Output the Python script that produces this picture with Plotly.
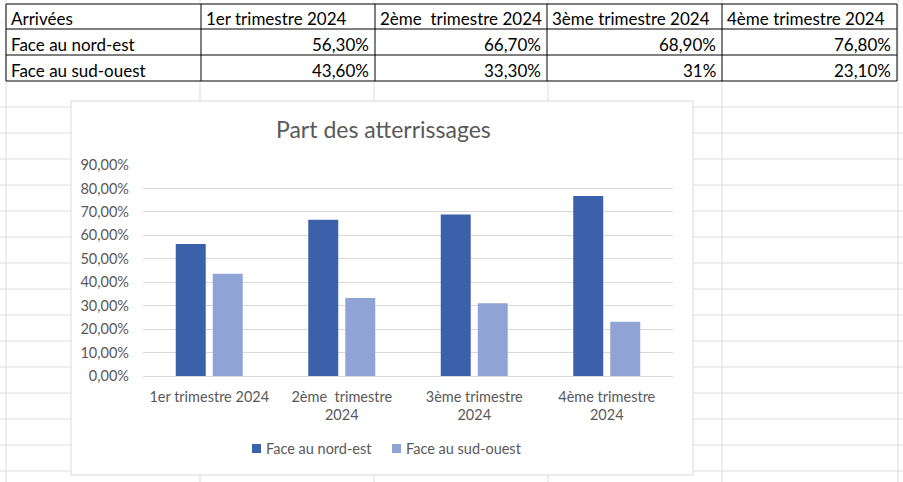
import plotly.graph_objects as go

# ---- data ----
categories = ["1er trimestre 2024", "2ème  trimestre 2024", "3ème trimestre 2024", "4ème trimestre 2024"]
series_names = ["Face au nord-est", "Face au sud-ouest"]
nord_est = [0.563, 0.667, 0.689, 0.768]
sud_ouest = [0.436, 0.333, 0.31, 0.231]
table_corner = "Arrivées"
nord_est_text = ["56,30%", "66,70%", "68,90%", "76,80%"]
sud_ouest_text = ["43,60%", "33,30%", "31%", "23,10%"]
x_tick_text = ["1er trimestre 2024", "2ème  trimestre<br>2024", "3ème trimestre<br>2024", "4ème trimestre<br>2024"]
chart_title = "Part des atterrissages"

# ---- style ----
W, H = 903, 482
FONT = "Lato"
TXT = "#595959"
C_DARK = "#3c61ab"
C_LIGHT = "#8fa4d5"
SHEET_GRID = "#dcdcdc"
TABLE_COLS = [6, 201, 375, 547, 722, 897]
TABLE_ROWS = [4, 29, 55, 81]


def fx(x):
    return x / W


def fy(y):
    return 1 - y / H


def keep_spaces(s):
    return s.replace("  ", "\u00a0 ")


fig = go.Figure()

# bars
fig.add_trace(go.Bar(x=categories, y=nord_est, name=series_names[0],
                     marker=dict(color=C_DARK, line=dict(width=0)), showlegend=False))
fig.add_trace(go.Bar(x=categories, y=sud_ouest, name=series_names[1],
                     marker=dict(color=C_LIGHT, line=dict(width=0)), showlegend=False))

shapes = []
annotations = []
# spreadsheet gridlines
for x in [6, 200, 374, 548, 722, 898]:
    shapes.append(dict(type="line", xref="paper", yref="paper", x0=fx(x), x1=fx(x), y0=0, y1=1,
                       line=dict(color=SHEET_GRID, width=1), layer="below"))
for k in range(15):
    y = 107 + 26 * k
    shapes.append(dict(type="line", xref="paper", yref="paper", x0=0, x1=1, y0=fy(y), y1=fy(y),
                       line=dict(color=SHEET_GRID, width=1), layer="below"))

# spreadsheet table (cells)
shapes.append(dict(type="rect", xref="paper", yref="paper", x0=fx(TABLE_COLS[0]), x1=fx(TABLE_COLS[-1]),
                   y0=fy(TABLE_ROWS[-1]), y1=fy(TABLE_ROWS[0]), fillcolor="white",
                   line=dict(color="black", width=1), layer="below"))
for x in TABLE_COLS[1:-1]:
    shapes.append(dict(type="line", xref="paper", yref="paper", x0=fx(x), x1=fx(x),
                       y0=fy(TABLE_ROWS[-1]), y1=fy(TABLE_ROWS[0]), line=dict(color="black", width=1),
                       layer="below"))
for y in TABLE_ROWS[1:-1]:
    shapes.append(dict(type="line", xref="paper", yref="paper", x0=fx(TABLE_COLS[0]), x1=fx(TABLE_COLS[-1]),
                       y0=fy(y), y1=fy(y), line=dict(color="black", width=1), layer="below"))

table_rows = [[table_corner] + categories,
              [series_names[0]] + nord_est_text,
              [series_names[1]] + sud_ouest_text]
for r, row in enumerate(table_rows):
    ty = (TABLE_ROWS[r] + TABLE_ROWS[r + 1]) / 2 + 2.5
    for c, val in enumerate(row):
        left = (r == 0) or (c == 0)
        tx = TABLE_COLS[c] + 3 if left else TABLE_COLS[c + 1] - 4
        annotations.append(dict(text=keep_spaces(val), xref="paper", yref="paper", x=fx(tx), y=fy(ty),
                                xanchor="left" if left else "right", yanchor="middle", showarrow=False,
                                font=dict(family=FONT, size=17, color="black")))

# chart box
shapes.append(dict(type="rect", xref="paper", yref="paper", x0=fx(71), x1=fx(693), y0=fy(475), y1=fy(101),
                   fillcolor="white", line=dict(color="#d9d9d9", width=1), layer="below"))

# title
annotations.append(dict(text=chart_title, xref="paper", yref="paper", x=fx(383), y=fy(129),
                        xanchor="center", yanchor="middle", showarrow=False,
                        font=dict(family=FONT, size=23, color=TXT)))
# manual legend
leg = [(252, 264, C_DARK, series_names[0]), (392, 404, C_LIGHT, series_names[1])]
for sx, tx, col, name in leg:
    shapes.append(dict(type="rect", xref="paper", yref="paper", x0=fx(sx), x1=fx(sx + 9),
                       y0=fy(453), y1=fy(444), fillcolor=col, line=dict(width=0)))
    annotations.append(dict(text=name, xref="paper", yref="paper", x=fx(tx), y=fy(448.5),
                            xanchor="left", yanchor="middle", showarrow=False,
                            font=dict(family=FONT, size=14.5, color=TXT)))

fig.update_layout(
    width=W, height=H, autosize=False,
    margin=dict(l=0, r=0, t=0, b=0, pad=0, autoexpand=False),
    paper_bgcolor="white", plot_bgcolor="rgba(0,0,0,0)",
    separators=", ",
    barmode="group", bargap=0.4415, bargroupgap=0.19,
    shapes=shapes, annotations=annotations,
    showlegend=False,
    xaxis=dict(domain=[fx(143), fx(673)], type="category", automargin=False,
               tickvals=categories, ticktext=[keep_spaces(t) for t in x_tick_text],
               showgrid=False, showline=False, zeroline=False, ticks="",
               tickfont=dict(family=FONT, size=14.5, color=TXT), ticklabelstandoff=10),
    yaxis=dict(domain=[fy(376), fy(165)], range=[0, 0.9], dtick=0.1, tick0=0, automargin=False,
               tickformat=".2%", showgrid=True, gridcolor="#d9d9d9", gridwidth=1,
               zeroline=True, zerolinecolor="#d9d9d9", zerolinewidth=1, showline=False, ticks="",
               tickfont=dict(family=FONT, size=14.5, color=TXT), ticklabelstandoff=13),
    font=dict(family=FONT, color=TXT),
)

fig.write_html("out.html")
